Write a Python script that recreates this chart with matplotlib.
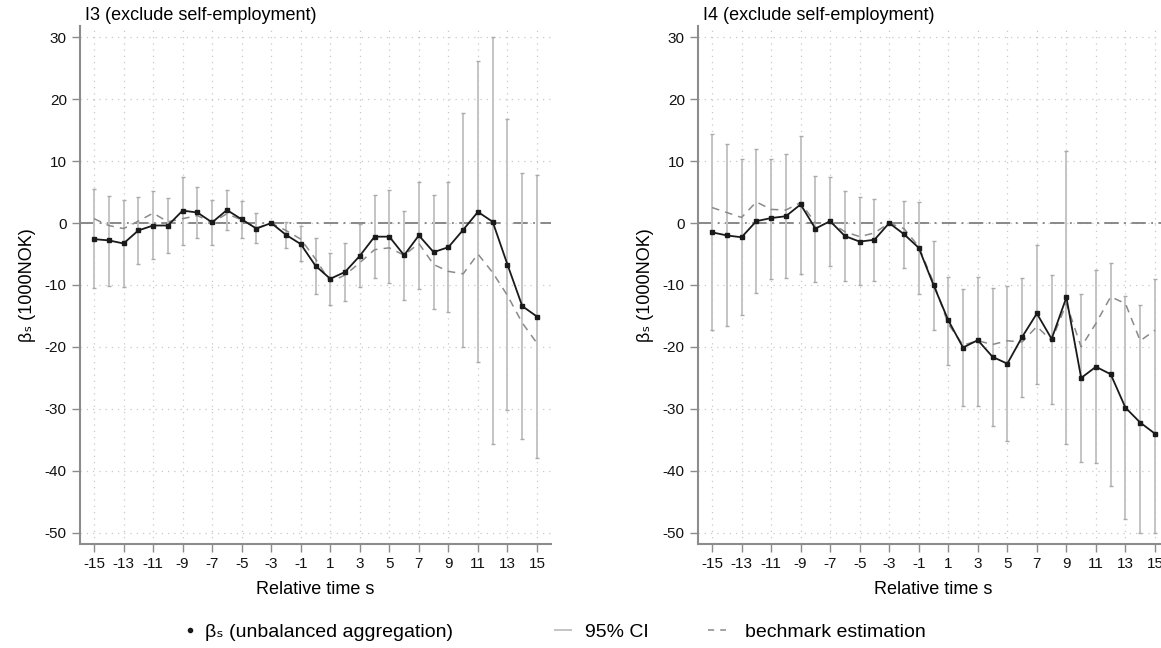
import matplotlib
matplotlib.use("Agg")
import matplotlib.pyplot as plt
from matplotlib.lines import Line2D
import numpy as np

plt.rcParams['font.family'] = ['Liberation Sans', 'DejaVu Sans']
plt.rcParams['axes.unicode_minus'] = False

s = np.arange(-15, 16)
nan = np.nan

# I3 (exclude self-employment)
beta3 = [-2.6, -2.8, -3.3, -1.2, -0.4, -0.4, 2.0, 1.7, 0.1, 2.1, 0.6, -0.9, 0.0, -1.9, -3.4,
         -6.9, -9.0, -7.9, -5.3, -2.2, -2.2, -5.2, -2.0, -4.7, -3.9, -1.1, 1.8, 0.2, -6.7, -13.4, -15.1]
hi3 = [5.5, 4.4, 3.7, 4.2, 5.1, 4.0, 7.4, 5.8, 3.7, 5.4, 3.6, 1.6, nan, 0.2, -0.4,
       -2.4, -4.8, -3.2, -0.2, 4.6, 5.4, 1.9, 6.7, 4.6, 6.7, 17.8, 26.1, 30.0, 16.8, 8.1, 7.7]
lo3 = [-10.5, -10.1, -10.3, -6.6, -5.8, -4.8, -3.5, -2.4, -3.6, -1.2, -2.4, -3.2, nan, -4.0, -6.2,
       -11.4, -13.2, -12.6, -10.4, -8.8, -9.7, -12.4, -10.7, -13.9, -14.4, -20.0, -22.5, -35.7, -30.1, -34.9, -38.0]
bench3 = [0.7, -0.4, -0.9, 0.3, 1.6, 0.2, 0.7, 1.2, 0.1, 1.5, 0.5, -0.8, 0.0, -1.2, -2.6,
          -5.8, -9.5, -8.4, -6.4, -4.3, -4.0, -5.2, -3.3, -6.7, -7.8, -8.2, -5.0, -8.0, -11.7, -16.1, -19.4]

# I4 (exclude self-employment)
beta4 = [-1.5, -2.0, -2.3, 0.3, 0.8, 1.1, 3.0, -0.9, 0.3, -2.1, -3.0, -2.7, 0.0, -1.8, -4.0,
         -10.0, -15.7, -20.1, -18.9, -21.6, -22.7, -18.4, -14.6, -18.7, -12.0, -25.0, -23.2, -24.4, -29.8, -32.2, -34.0]
hi4 = [14.4, 12.7, 10.3, 11.9, 10.4, 11.1, 14.1, 7.6, 7.5, 5.2, 4.2, 3.8, nan, 3.6, 3.4,
       -2.9, -8.7, -10.6, -8.7, -10.5, -10.2, -8.9, -3.6, -8.4, 11.7, -11.5, -7.6, -6.4, -11.8, -13.3, -9.0]
lo4 = [-17.2, -16.6, -14.9, -11.3, -9.0, -8.9, -8.2, -9.5, -7.0, -9.3, -10.0, -9.3, nan, -7.2, -11.5,
       -17.2, -22.9, -29.6, -29.5, -32.8, -35.2, -28.0, -25.9, -29.2, -35.6, -38.5, -38.7, -42.5, -47.7, -50.0, -50.0]
bench4 = [2.5, 1.7, 0.9, 3.4, 2.2, 2.1, 3.3, 0.0, 0.1, -1.4, -2.2, -1.6, 0.0, -0.9, -3.8,
          -9.6, -16.3, -19.7, -19.0, -19.6, -19.0, -19.2, -16.7, -19.0, -13.0, -20.0, -16.2, -11.9, -13.0, -19.0, -17.3]

panels = [
    ("I3 (exclude self-employment)", beta3, lo3, hi3, bench3),
    ("I4 (exclude self-employment)", beta4, lo4, hi4, bench4),
]

fig = plt.figure(figsize=(11.61, 6.48), dpi=100)
lefts = [0.0689, 0.6012]
ci_col = '#c4c4c4'
spine_col = '#8c8c8c'

for left, (title, beta, lo, hi, bench) in zip(lefts, panels):
    ax = fig.add_axes([left, 0.1605, 0.4057, 0.7994])
    lo = np.array(lo)
    hi = np.array(hi)
    ok = ~np.isnan(lo)

    ax.vlines(s[ok], lo[ok], hi[ok], color=ci_col, lw=1.4, zorder=2)
    ax.plot(s[ok], lo[ok], ls='none', marker='_', ms=3, mew=1, color='#aaaaaa', zorder=2)
    ax.plot(s[ok], hi[ok], ls='none', marker='_', ms=3, mew=1, color='#aaaaaa', zorder=2)
    ax.axhline(0, color='#808080', lw=1.3, ls=(0, (8, 3, 1, 3)), zorder=1)
    ax.plot(s, bench, color='#8a8a8a', lw=1.1, ls=(0, (5, 4)), zorder=3)
    ax.plot(s, beta, color='#1a1a1a', lw=1.3, marker='s', ms=2.2, zorder=4)

    ax.set_xlim(-15.95, 15.95)
    ax.set_ylim(-51.8, 31.8)
    ax.set_xticks(np.arange(-15, 16, 2))
    ax.set_yticks(np.arange(-50, 31, 10))
    ax.grid(True, color='#c8c8c8', ls=(0, (1, 4)), lw=0.9)
    ax.set_axisbelow(True)
    for side in ['top', 'right']:
        ax.spines[side].set_visible(False)
    for side in ['left', 'bottom']:
        ax.spines[side].set_color(spine_col)
        ax.spines[side].set_linewidth(1.5)
    ax.tick_params(axis='both', direction='out', length=6, width=1, color=spine_col,
                   labelsize=11, labelcolor='#111111')
    ax.set_title(title, loc='left', fontsize=13, pad=4, x=0.01)
    ax.set_xlabel("Relative time s", fontsize=13, labelpad=7)
    ax.set_ylabel("\u03b2\u209b (1000NOK)", fontsize=13, labelpad=6)

# legend entries placed like the reference (separate slots)
W = 1161.0
entries = [
    (Line2D([], [], ls='none', marker='.', ms=6, color='#1a1a1a'),
     "\u03b2\u209b (unbalanced aggregation)", 180, 1.0, 0.3),
    (Line2D([], [], color=ci_col, lw=1.4), "95% CI", 555, 0.8, 0.75),
    (Line2D([], [], color='#8a8a8a', lw=1.1, ls=(0, (4, 4))), "bechmark estimation", 708, 0.9, 1.0),
]
for h, lab, px, hl, tp in entries:
    fig.legend([h], [lab], loc='center left', bbox_to_anchor=(px / W, 0.025),
               frameon=False, fontsize=14, handlelength=hl, handletextpad=tp,
               borderpad=0, borderaxespad=0)

fig.savefig("out.png", dpi=100)
